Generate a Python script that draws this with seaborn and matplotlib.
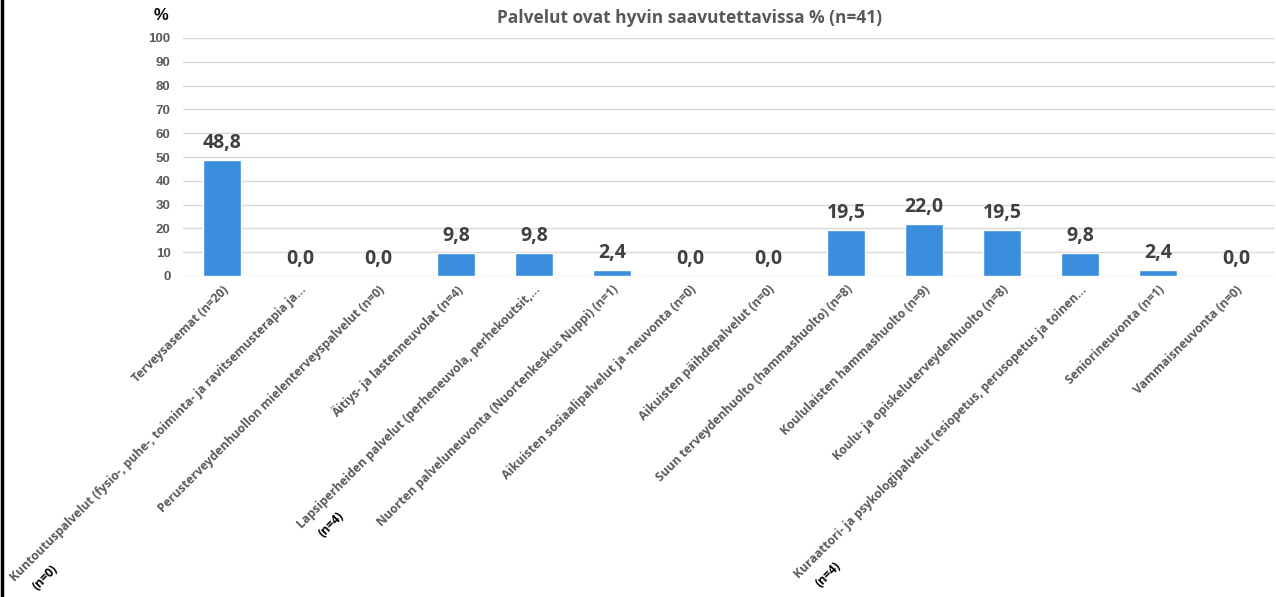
import matplotlib.pyplot as plt
import matplotlib.lines as mlines
from matplotlib.font_manager import FontProperties
import pandas as pd
import seaborn as sns

# chart data
labels = [
    "Terveysasemat (n=20)",
    "Kuntoutuspalvelut (fysio-, puhe-, toiminta- ja ravitsemusterapia ja...",
    "Perusterveydenhuollon mielenterveyspalvelut (n=0)",
    "Äitiys- ja lastenneuvolat (n=4)",
    "Lapsiperheiden palvelut (perheneuvola, perhekoutsit,...",
    "Nuorten palveluneuvonta (Nuortenkeskus Nuppi) (n=1)",
    "Aikuisten sosiaalipalvelut ja -neuvonta (n=0)",
    "Aikuisten päihdepalvelut (n=0)",
    "Suun terveydenhuolto (hammashuolto) (n=8)",
    "Koululaisten hammashuolto (n=9)",
    "Koulu- ja opiskeluterveydenhuolto (n=8)",
    "Kuraattori- ja psykologipalvelut (esiopetus, perusopetus ja toinen...",
    "Seniorineuvonta (n=1)",
    "Vammaisneuvonta (n=0)",
]
# second line of the wrapped labels (shown in black)
second_lines = ["", "(n=0)", "", "", "(n=4)", "", "", "", "", "", "", "(n=4)", "", ""]
values = [48.8, 0.0, 0.0, 9.8, 9.8, 2.4, 0.0, 0.0, 19.5, 22.0, 19.5, 9.8, 2.4, 0.0]

df = pd.DataFrame({"palvelu": labels, "osuus": values})

sns.set_style("white")
plt.rcParams['font.family'] = ['Open Sans', 'DejaVu Sans']

fig = plt.figure(figsize=(12.76, 5.97), dpi=100)
ax = fig.add_axes([183 / 1276, 1 - 276 / 597, 1092 / 1276, 238 / 597])

sns.barplot(data=df, x="palvelu", y="osuus", color="#3B8EDE", saturation=1,
            width=0.49, ax=ax)

ax.set_ylim(0, 100)
ax.set_xlim(-0.5, len(labels) - 0.5)
ax.set_yticks(range(0, 101, 10))
ax.yaxis.grid(True, color="#d9d9d9", linewidth=1)
ax.set_axisbelow(True)
for s in ax.spines.values():
    s.set_visible(False)
ax.tick_params(axis="both", length=0)
ax.tick_params(axis="y", pad=9)
ax.set_xlabel("")
ax.set_ylabel("")

for t in ax.get_yticklabels():
    t.set_fontweight("bold")
    t.set_color("#595959")
    t.set_fontsize(9.5)
    t.set_family("Liberation Sans")

tick_font = FontProperties(family="Open Sans", weight="bold", size=8.75)
ax.set_xticks(range(len(labels)))
ax.set_xticklabels(labels, rotation=45, ha="right", rotation_mode="anchor",
                   fontproperties=tick_font, color="#595959")
ax.tick_params(axis="x", pad=5)

# wrapped second lines under the rotated labels: start of the first line,
# moved one line down in the rotated frame
fig.canvas.draw()
renderer = fig.canvas.get_renderer()
line_h = tick_font.get_size_in_points() * 1.2
for i, s in enumerate(second_lines):
    if s:
        w, h, d = renderer.get_text_width_height_descent(labels[i], tick_font, ismath=False)
        w_pt = w * 72 / fig.dpi
        dx = -w_pt * 0.7071 + line_h * 0.7071 + 8
        dy = -w_pt * 0.7071 - line_h * 0.7071 - 4
        ax.annotate(s, xy=(i, 0), xycoords=("data", "axes fraction"),
                    xytext=(dx, dy), textcoords="offset points", rotation=45,
                    rotation_mode="anchor", fontproperties=tick_font,
                    color="black", ha="left", va="top")

# value labels
for c in ax.containers:
    ax.bar_label(c, labels=[f"{v:.1f}".replace(".", ",") for v in values],
                 padding=5, fontsize=14, fontweight="bold", color="#404040")

fig.text(690 / 1276, 1 - 18 / 597, "Palvelut ovat hyvin saavutettavissa % (n=41)",
         ha="center", va="center", fontsize=12.5, fontweight="bold", color="#595959")
fig.text(161 / 1276, 1 - 16 / 597, "%", ha="center", va="center",
         fontsize=12, fontweight="bold", color="black", family="Liberation Sans")

# dark frame line on the left edge
fig.add_artist(mlines.Line2D([0.0015, 0.0015], [0, 1], color="black", linewidth=2.5,
                             transform=fig.transFigure))

plt.savefig("out.png", dpi=100)
